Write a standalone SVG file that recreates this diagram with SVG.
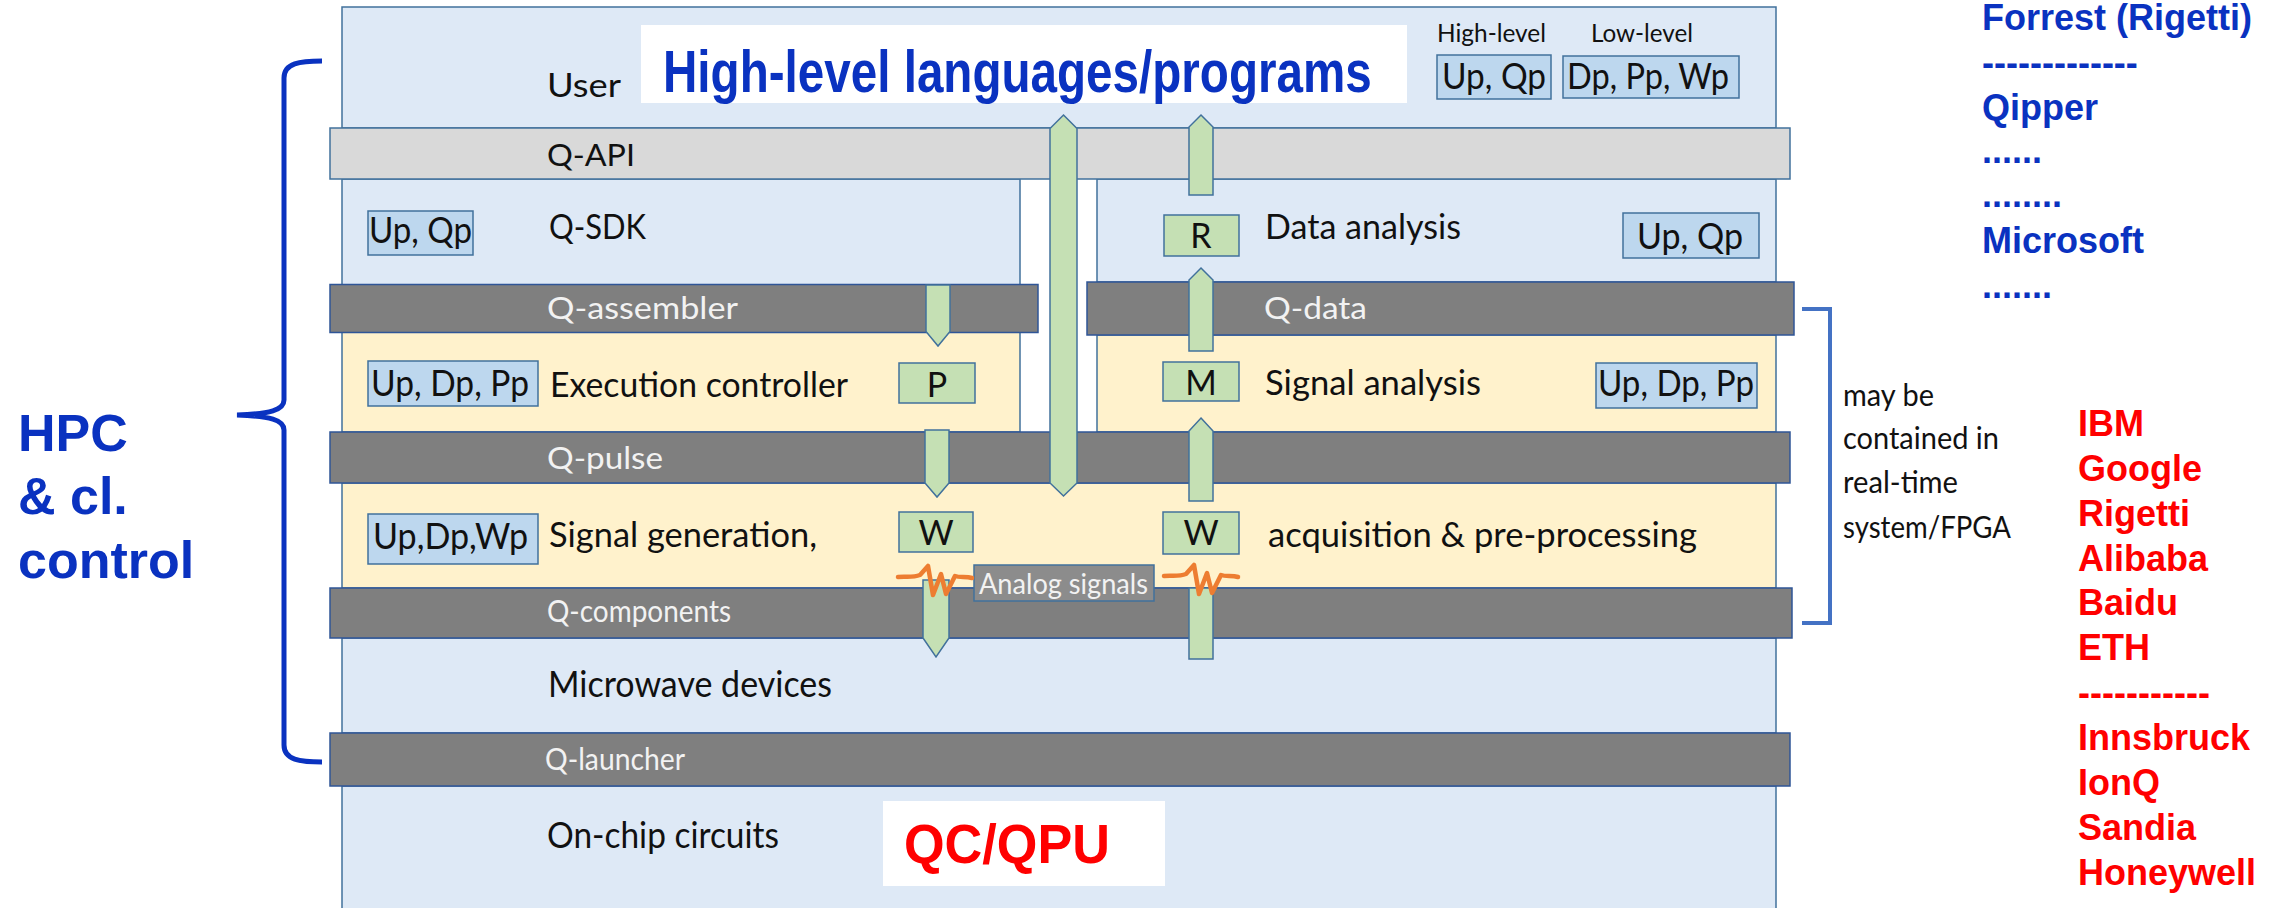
<svg xmlns="http://www.w3.org/2000/svg" width="2293" height="908" viewBox="0 0 2293 908">
  <style>
    .layer-blue{fill:#dee9f6;stroke:#41719c;stroke-width:1.5}
    .layer-yellow{fill:#fff2cc;stroke:#41719c;stroke-width:1.5}
    .bar-dark{fill:#7f7f7f;stroke:#2f5597;stroke-width:1.5}
    .bar-light{fill:#d9d9d9;stroke:#41719c;stroke-width:1.5}
    .tag{fill:#bdd7ee;stroke:#41719c;stroke-width:1.5}
    .op{fill:#c5e0b4;stroke:#41719c;stroke-width:1.5}
    .flow{fill:#c5e0b4;stroke:#41719c;stroke-width:1.5}
    .wave{fill:none;stroke:#ed7d31;stroke-width:4.5;stroke-linejoin:round;stroke-linecap:round}
    .lbl{font-family:Lato,"Liberation Sans",sans-serif;fill:#111111}
    .lbl-bar{font-family:Lato,"Liberation Sans",sans-serif;fill:#f2f2f2}
    .op-txt{font-family:Lato,"Liberation Sans",sans-serif;fill:#111111;font-size:34px;text-anchor:middle}
    .big-blue{font-family:"Liberation Sans",Arial,sans-serif;font-weight:bold;fill:#0a32c0}
    .big-red{font-family:"Liberation Sans",Arial,sans-serif;font-weight:bold;fill:#ff0000}
  </style>

  <!-- stack layers -->
  <g id="layer-user">
    <rect class="layer-blue" x="342" y="7" width="1434" height="121"/>
    <rect x="641" y="25" width="766" height="78" fill="#ffffff"/>
    <!-- title is drawn narrow and stretched vertically -->
    <text class="big-blue" transform="translate(663,92) scale(1,1.24)" x="0" y="0" font-size="47.6">High-level languages/programs</text>
    <text class="lbl" x="547" y="97" font-size="32" textLength="74" lengthAdjust="spacingAndGlyphs">User</text>
    <text class="lbl" x="1437" y="42" font-size="25" textLength="109" lengthAdjust="spacingAndGlyphs">High-level</text>
    <text class="lbl" x="1591" y="42" font-size="25" textLength="102" lengthAdjust="spacingAndGlyphs">Low-level</text>
    <rect class="tag" x="1437" y="55" width="114" height="44"/>
    <text class="lbl" x="1442" y="89" font-size="36" textLength="104" lengthAdjust="spacingAndGlyphs">Up, Qp</text>
    <rect class="tag" x="1563" y="56" width="176" height="42"/>
    <text class="lbl" x="1567" y="89" font-size="36" textLength="162" lengthAdjust="spacingAndGlyphs">Dp, Pp, Wp</text>
  </g>

  <g id="layer-sdk">
    <rect class="layer-blue" x="342" y="179" width="678" height="106"/>
    <text class="lbl" x="549" y="239" font-size="35" textLength="97" lengthAdjust="spacingAndGlyphs">Q-SDK</text>
    <rect class="tag" x="368" y="211" width="105" height="44"/>
    <text class="lbl" x="369" y="243" font-size="36" textLength="103" lengthAdjust="spacingAndGlyphs">Up, Qp</text>
  </g>

  <g id="layer-data-analysis">
    <rect class="layer-blue" x="1097" y="179" width="679" height="103"/>
    <text class="lbl" x="1265" y="239" font-size="35" textLength="196" lengthAdjust="spacingAndGlyphs">Data analysis</text>
    <rect class="tag" x="1623" y="213" width="136" height="45"/>
    <text class="lbl" x="1637" y="249" font-size="36" textLength="106" lengthAdjust="spacingAndGlyphs">Up, Qp</text>
  </g>

  <g id="layer-exec">
    <rect class="layer-yellow" x="342" y="332" width="678" height="100"/>
    <text class="lbl" x="550" y="397" font-size="35" textLength="298" lengthAdjust="spacingAndGlyphs">Execution controller</text>
    <rect class="tag" x="368" y="361" width="170" height="45"/>
    <text class="lbl" x="371" y="396" font-size="36" textLength="158" lengthAdjust="spacingAndGlyphs">Up, Dp, Pp</text>
  </g>

  <g id="layer-signal-analysis">
    <rect class="layer-yellow" x="1097" y="335" width="679" height="97"/>
    <text class="lbl" x="1265" y="395" font-size="35" textLength="216" lengthAdjust="spacingAndGlyphs">Signal analysis</text>
    <rect class="tag" x="1596" y="363" width="161" height="45"/>
    <text class="lbl" x="1598" y="396" font-size="36" textLength="156" lengthAdjust="spacingAndGlyphs">Up, Dp, Pp</text>
  </g>

  <g id="layer-signal-gen">
    <rect class="layer-yellow" x="342" y="483" width="1434" height="105"/>
    <text class="lbl" x="549" y="547" font-size="35" textLength="268" lengthAdjust="spacingAndGlyphs">Signal generation,</text>
    <text class="lbl" x="1268" y="547" font-size="35" textLength="429" lengthAdjust="spacingAndGlyphs">acquisition &amp; pre-processing</text>
    <rect class="tag" x="368" y="514" width="170" height="50"/>
    <text class="lbl" x="373" y="549" font-size="36" textLength="155" lengthAdjust="spacingAndGlyphs">Up,Dp,Wp</text>
  </g>

  <g id="layer-microwave">
    <rect class="layer-blue" x="342" y="638" width="1434" height="95"/>
    <text class="lbl" x="548" y="697" font-size="36" textLength="284" lengthAdjust="spacingAndGlyphs">Microwave devices</text>
  </g>

  <g id="layer-onchip">
    <rect class="layer-blue" x="342" y="786" width="1434" height="130"/>
    <text class="lbl" x="547" y="848" font-size="36" textLength="232" lengthAdjust="spacingAndGlyphs">On-chip circuits</text>
    <rect x="883" y="801" width="282" height="85" fill="#ffffff"/>
    <text class="big-red" x="904" y="863" font-size="55" textLength="206" lengthAdjust="spacingAndGlyphs">QC/QPU</text>
  </g>

  <!-- interface bars -->
  <g id="bar-q-api">
    <rect class="bar-light" x="330" y="128" width="1460" height="51"/>
    <text class="lbl" x="547" y="166" font-size="31" textLength="88" lengthAdjust="spacingAndGlyphs">Q-API</text>
  </g>
  <g id="bar-q-assembler">
    <rect class="bar-dark" x="330" y="284.5" width="708" height="48"/>
    <text class="lbl-bar" x="547" y="319" font-size="31" textLength="191" lengthAdjust="spacingAndGlyphs">Q-assembler</text>
  </g>
  <g id="bar-q-data">
    <rect class="bar-dark" x="1087" y="282" width="707" height="53"/>
    <text class="lbl-bar" x="1264" y="319" font-size="31" textLength="103" lengthAdjust="spacingAndGlyphs">Q-data</text>
  </g>
  <g id="bar-q-pulse">
    <rect class="bar-dark" x="330" y="432" width="1460" height="51"/>
    <text class="lbl-bar" x="547" y="469" font-size="31" textLength="116" lengthAdjust="spacingAndGlyphs">Q-pulse</text>
  </g>
  <g id="bar-q-components">
    <rect class="bar-dark" x="330" y="588" width="1462" height="50"/>
    <text class="lbl-bar" x="547" y="622" font-size="31" textLength="184" lengthAdjust="spacingAndGlyphs">Q-components</text>
  </g>
  <g id="bar-q-launcher">
    <rect class="bar-dark" x="330" y="733" width="1460" height="53"/>
    <text class="lbl-bar" x="545" y="770" font-size="30" textLength="140" lengthAdjust="spacingAndGlyphs">Q-launcher</text>
  </g>

  <!-- processing stages -->
  <g id="op-p">
    <rect class="op" x="899" y="363" width="76" height="40"/>
    <text class="op-txt" x="937" y="397">P</text>
  </g>
  <g id="op-w-gen">
    <rect class="op" x="899" y="512" width="74" height="40"/>
    <text class="op-txt" x="936" y="545">W</text>
  </g>
  <g id="op-r">
    <rect class="op" x="1164" y="215" width="75" height="41"/>
    <text class="op-txt" x="1201" y="248">R</text>
  </g>
  <g id="op-m">
    <rect class="op" x="1163" y="362" width="76" height="39"/>
    <text class="op-txt" x="1201" y="395">M</text>
  </g>
  <g id="op-w-acq">
    <rect class="op" x="1163" y="512" width="76" height="42"/>
    <text class="op-txt" x="1201" y="545">W</text>
  </g>

  <!-- data flow arrows and analog links -->
  <g id="connectors">
    <polygon class="flow" points="1063.5,115 1077,128.5 1077,483 1063.5,496 1050,483 1050,128.5"/>
    <polygon class="flow" points="1201,115 1213,127 1213,195 1189,195 1189,127"/>
    <polygon class="flow" points="1201,268 1213,280 1213,351 1189,351 1189,280"/>
    <polygon class="flow" points="1201,418 1213,431 1213,501 1189,501 1189,431"/>
    <rect class="flow" x="1189" y="588" width="24" height="71"/>
    <polygon class="flow" points="926,285 950,285 950,331.5 938,346 926,331.5"/>
    <polygon class="flow" points="925,430 949,430 949,483 937,497 925,483"/>
    <polygon class="flow" points="923,580 949,580 949,638 936,657 923,638"/>
    <g id="analog-signals">
      <rect x="974" y="565" width="180" height="36" fill="#8c8c8c" stroke="#41719c" stroke-width="1.5"/>
      <text class="lbl-bar" x="979" y="594" font-size="29" textLength="169" lengthAdjust="spacingAndGlyphs">Analog signals</text>
    </g>
    <path class="wave" d="M898,577 C905,576 912,578 920,575 L928,566 L933,595 L941,574 L946,594 L955,576 C960,578 966,576 972,578"/>
    <path class="wave" transform="translate(266,-1)" d="M898,577 C905,576 912,578 920,575 L928,566 L933,595 L941,574 L946,594 L955,576 C960,578 966,576 972,578"/>
  </g>

  <!-- classical control brace -->
  <g id="group-hpc">
    <path d="M322,61 C300,61 284,63 284,78 L284,400 C284,410 270,414 237,415 C270,416 284,420 284,430 L284,745 C284,760 300,762 322,762" fill="none" stroke="#0a32c0" stroke-width="5"/>
    <text class="big-blue" x="18" y="451" font-size="52">HPC</text>
    <text class="big-blue" x="18" y="514" font-size="52">&amp; cl.</text>
    <text class="big-blue" x="18" y="578" font-size="52">control</text>
  </g>

  <!-- real-time bracket -->
  <g id="group-realtime">
    <path d="M1802,309 H1830 V623 H1802" fill="none" stroke="#4472c4" stroke-width="4"/>
    <text class="lbl" x="1843" y="406" font-size="30" textLength="91" lengthAdjust="spacingAndGlyphs">may be</text>
    <text class="lbl" x="1843" y="449" font-size="30" textLength="156" lengthAdjust="spacingAndGlyphs">contained in</text>
    <text class="lbl" x="1843" y="493" font-size="30" textLength="115" lengthAdjust="spacingAndGlyphs">real-time</text>
    <text class="lbl" x="1843" y="538" font-size="30" textLength="168" lengthAdjust="spacingAndGlyphs">system/FPGA</text>
  </g>

  <!-- software vendors -->
  <g id="list-software" class="big-blue" font-size="36">
    <text x="1982" y="30">Forrest (Rigetti)</text>
    <text x="1982" y="75">-------------</text>
    <text x="1982" y="120">Qipper</text>
    <text x="1982" y="163">......</text>
    <text x="1982" y="207">........</text>
    <text x="1982" y="253">Microsoft</text>
    <text x="1982" y="298">.......</text>
  </g>

  <!-- hardware vendors -->
  <g id="list-hardware" class="big-red" font-size="36">
    <text x="2078" y="436">IBM</text>
    <text x="2078" y="481">Google</text>
    <text x="2078" y="526">Rigetti</text>
    <text x="2078" y="571">Alibaba</text>
    <text x="2078" y="615">Baidu</text>
    <text x="2078" y="660">ETH</text>
    <text x="2078" y="705">-----------</text>
    <text x="2078" y="750">Innsbruck</text>
    <text x="2078" y="795">IonQ</text>
    <text x="2078" y="840">Sandia</text>
    <text x="2078" y="885">Honeywell</text>
  </g>
</svg>
